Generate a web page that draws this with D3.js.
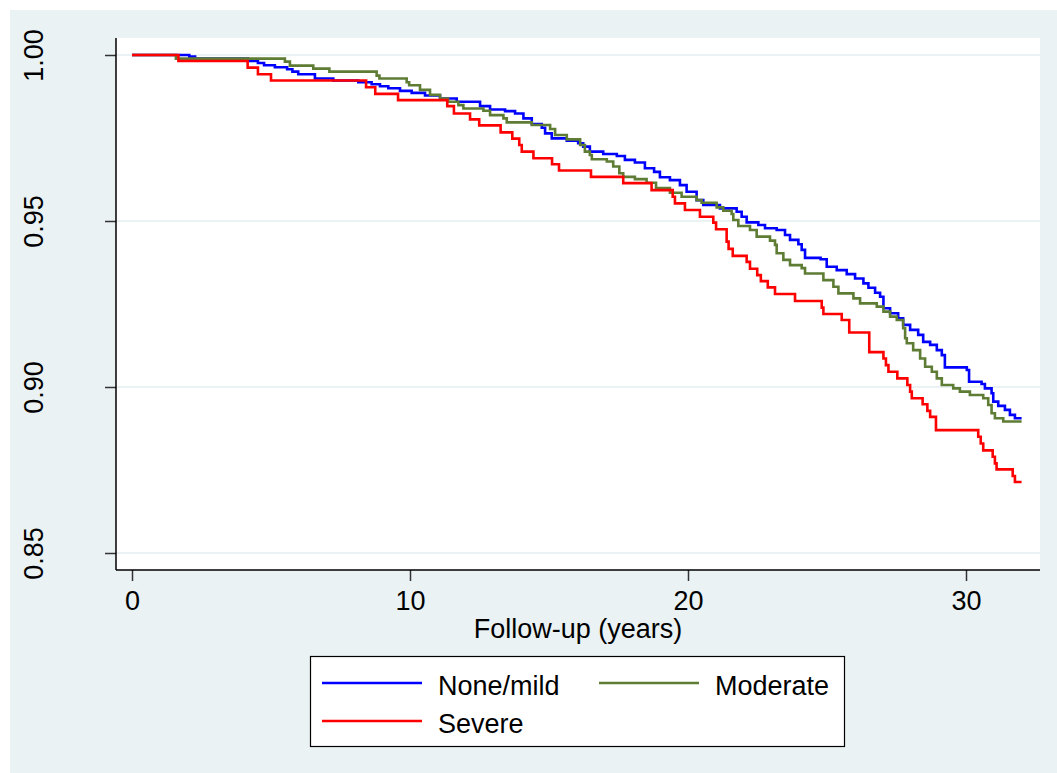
<!DOCTYPE html>
<html>
<head>
<meta charset="utf-8">
<script src="https://cdn.jsdelivr.net/npm/d3@7"></script>
<style>
  body { margin: 0; background: #fff; }
  text { font-family: "Liberation Sans", Arial, sans-serif; fill: #000; }
</style>
</head>
<body>
<div id="chart"></div>
<script>
// Kaplan-Meier survival estimates: [years, survival]
const noneMild = [
  [0, 1], [2.06, 0.9995], [2.27, 0.9989], [4.17, 0.9982], [4.53, 0.9976], [4.75, 0.9969],
  [5.14, 0.9963], [5.58, 0.9957], [5.77, 0.9950], [5.98, 0.9942], [6.58, 0.9929], [7.24, 0.9923],
  [8.14, 0.9918], [8.62, 0.9912], [8.92, 0.9906], [9.22, 0.9900], [9.64, 0.9892], [10.06, 0.9886],
  [10.54, 0.9878], [11.08, 0.9869], [11.68, 0.9859], [12.52, 0.9846], [12.88, 0.9836], [13.42, 0.9831],
  [13.78, 0.9824], [14.08, 0.9809], [14.38, 0.9792], [14.74, 0.9781], [14.86, 0.9764], [15.10, 0.9749],
  [15.64, 0.9742], [16.05, 0.9734], [16.23, 0.9724], [16.47, 0.9709], [16.95, 0.9702], [17.44, 0.9696],
  [17.73, 0.9684], [18.09, 0.9676], [18.45, 0.9659], [18.78, 0.9648], [18.99, 0.9632], [19.35, 0.9623],
  [19.71, 0.9608], [19.95, 0.9588], [20.31, 0.9563], [20.55, 0.9548], [21.15, 0.9538], [21.75, 0.9528],
  [21.93, 0.9513], [22.11, 0.9496], [22.53, 0.9488], [22.77, 0.9478], [23.19, 0.9473], [23.49, 0.9458],
  [23.67, 0.9443], [23.97, 0.9430], [24.09, 0.9413], [24.21, 0.9389], [24.77, 0.9385], [24.99, 0.9362],
  [25.35, 0.9352], [25.71, 0.9340], [26.01, 0.9327], [26.31, 0.9312], [26.49, 0.9299], [26.73, 0.9284],
  [26.91, 0.9272], [27.03, 0.9237], [27.27, 0.9222], [27.56, 0.9207], [27.74, 0.9187], [27.99, 0.9172],
  [28.28, 0.9157], [28.46, 0.9136], [28.71, 0.9127], [28.95, 0.9111], [29.13, 0.9096], [29.24, 0.9059],
  [30.03, 0.9051], [30.11, 0.9016], [30.56, 0.9009], [30.68, 0.8996], [30.92, 0.8981], [30.98, 0.8956],
  [31.16, 0.8943], [31.40, 0.8931], [31.58, 0.8916], [31.76, 0.8906], [32.0, 0.8906]
];

const moderate = [
  [0, 1], [1.58, 0.9989], [5.50, 0.9980], [5.68, 0.9968], [6.52, 0.9959], [7.10, 0.9950],
  [8.80, 0.9938], [8.90, 0.9929], [9.88, 0.9918], [9.97, 0.9909], [10.36, 0.9895], [10.72, 0.9880],
  [11.08, 0.9869], [11.37, 0.9859], [11.74, 0.9849], [11.92, 0.9839], [12.64, 0.9832], [12.88, 0.9819],
  [13.36, 0.9809], [13.48, 0.9797], [14.38, 0.9789], [15.04, 0.9777], [15.22, 0.9759], [15.64, 0.9746],
  [16.12, 0.9729], [16.29, 0.9709], [16.47, 0.9699], [16.54, 0.9686], [17.08, 0.9679], [17.31, 0.9664],
  [17.53, 0.9644], [17.67, 0.9633], [18.09, 0.9626], [18.51, 0.9615], [18.85, 0.9599], [19.35, 0.9585],
  [19.77, 0.9573], [20.31, 0.9563], [20.49, 0.9555], [21.03, 0.9541], [21.27, 0.9531], [21.57, 0.9521],
  [21.63, 0.9503], [21.81, 0.9485], [22.23, 0.9473], [22.47, 0.9453], [22.95, 0.9441], [23.13, 0.9428],
  [23.19, 0.9403], [23.43, 0.9383], [23.67, 0.9367], [24.09, 0.9358], [24.21, 0.9342], [24.87, 0.9322],
  [25.23, 0.9302], [25.41, 0.9282], [25.95, 0.9267], [26.19, 0.9252], [26.79, 0.9242], [27.03, 0.9227],
  [27.27, 0.9212], [27.51, 0.9202], [27.74, 0.9177], [27.81, 0.9147], [27.87, 0.9132], [28.10, 0.9111],
  [28.35, 0.9086], [28.53, 0.9061], [28.77, 0.9046], [28.95, 0.9026], [29.13, 0.9006], [29.54, 0.8996],
  [29.78, 0.8986], [30.14, 0.8976], [30.62, 0.8966], [30.80, 0.8946], [30.92, 0.8921], [31.04, 0.8906],
  [31.34, 0.8896], [32.0, 0.8896]
];

const severe = [
  [0, 1], [1.67, 0.9982], [4.16, 0.9962], [4.53, 0.9942], [5.00, 0.9923], [8.42, 0.9903],
  [8.75, 0.9883], [9.57, 0.9864], [11.34, 0.9846], [11.58, 0.9824], [12.16, 0.9806], [12.49, 0.9788],
  [13.26, 0.9767], [13.68, 0.9748], [13.93, 0.9729], [14.02, 0.9709], [14.44, 0.9689], [15.11, 0.9671],
  [15.36, 0.9652], [16.51, 0.9633], [17.67, 0.9614], [18.69, 0.9593], [19.45, 0.9573], [19.53, 0.9553],
  [19.89, 0.9533], [20.43, 0.9513], [20.91, 0.9495], [21.01, 0.9475], [21.39, 0.9438], [21.46, 0.9416],
  [21.61, 0.9395], [22.11, 0.9377], [22.23, 0.9356], [22.49, 0.9337], [22.62, 0.9319], [22.87, 0.9300],
  [23.13, 0.9280], [23.85, 0.9259], [24.81, 0.9239], [24.87, 0.9220], [25.53, 0.9202], [25.80, 0.9164],
  [26.52, 0.9105], [27.03, 0.9086], [27.12, 0.9066], [27.21, 0.9046], [27.53, 0.9026], [27.89, 0.9006],
  [27.99, 0.8986], [28.05, 0.8966], [28.44, 0.8948], [28.61, 0.8928], [28.71, 0.8910], [28.92, 0.8870],
  [30.44, 0.8850], [30.53, 0.8830], [30.62, 0.8809], [30.96, 0.8790], [31.04, 0.8770], [31.10, 0.8752],
  [31.68, 0.8732], [31.76, 0.8714], [32.0, 0.8714]
];

const xTicks = [0, 10, 20, 30];
const yTicks = [0.85, 0.90, 0.95, 1.00];
const seriesNames = ["None/mild", "Moderate", "Severe"];
const seriesColors = ["#0000ff", "#5e7c34", "#ff0000"];
const seriesData = [noneMild, moderate, severe];

const W = 1057, H = 773;
const plot = { left: 116, top: 38, right: 1040, bottom: 570 };
const fontSize = "27px";

const svg = d3.select("#chart")
  .append("svg")
  .attr("width", W)
  .attr("height", H);

// graph region
svg.append("rect")
  .attr("x", 10).attr("y", 10)
  .attr("width", W - 10).attr("height", H - 10)
  .attr("fill", "#eaf2f3");

svg.append("rect")
  .attr("x", plot.left).attr("y", plot.top)
  .attr("width", plot.right - plot.left).attr("height", plot.bottom - plot.top)
  .attr("fill", "#fff");

const x = d3.scaleLinear().domain([0, 30]).range([132, 966]);
const y = d3.scaleLinear().domain([0.85, 1.0]).range([553, 55]);

// gridlines
svg.append("g")
  .selectAll("line")
  .data(yTicks)
  .enter().append("line")
  .attr("x1", plot.left).attr("x2", plot.right)
  .attr("y1", d => y(d)).attr("y2", d => y(d))
  .attr("stroke", "#eaf2f3")
  .attr("stroke-width", 2);

// y axis
const yAxis = svg.append("g")
  .attr("transform", `translate(${plot.left},0)`)
  .call(d3.axisLeft(y).tickValues(yTicks).tickFormat(d3.format(".2f")).tickSize(11).tickPadding(0));
yAxis.select(".domain").remove();
yAxis.selectAll(".tick line").attr("stroke", "#333").attr("stroke-width", 1.5);
yAxis.selectAll(".tick text")
  .attr("transform", "translate(-73,0) rotate(-90)")
  .attr("x", 0).attr("dy", 0).attr("y", 0)
  .style("text-anchor", "middle")
  .style("font-size", fontSize);

// x axis
const xAxis = svg.append("g")
  .attr("transform", `translate(0,${plot.bottom})`)
  .call(d3.axisBottom(x).tickValues(xTicks).tickSize(11).tickPadding(0));
xAxis.select(".domain").remove();
xAxis.selectAll(".tick line").attr("stroke", "#333").attr("stroke-width", 1.5);
xAxis.selectAll(".tick text")
  .attr("y", 40).attr("dy", 0)
  .style("font-size", fontSize);

// axis lines
svg.append("line")
  .attr("x1", plot.left).attr("x2", plot.left)
  .attr("y1", plot.top).attr("y2", plot.bottom)
  .attr("stroke", "#000").attr("stroke-width", 1.5);
svg.append("line")
  .attr("x1", plot.left).attr("x2", plot.right)
  .attr("y1", plot.bottom).attr("y2", plot.bottom)
  .attr("stroke", "#000").attr("stroke-width", 1.5);

// x title
svg.append("text")
  .attr("x", 578).attr("y", 638)
  .style("text-anchor", "middle")
  .style("font-size", fontSize)
  .text("Follow-up (years)");

// survival curves
const line = d3.line()
  .x(d => x(d[0]))
  .y(d => y(d[1]))
  .curve(d3.curveStepAfter);

svg.append("g")
  .selectAll("path")
  .data(seriesData)
  .enter().append("path")
  .attr("d", line)
  .attr("fill", "none")
  .attr("stroke", (d, i) => seriesColors[i])
  .attr("stroke-width", 2.6);

// legend
const legend = svg.append("g");
legend.append("rect")
  .attr("x", 310.5).attr("y", 656.5)
  .attr("width", 534).attr("height", 90)
  .attr("fill", "#fff")
  .attr("stroke", "#000")
  .attr("stroke-width", 1.2);

const legendPos = [
  { lx: 322, tx: 438, ly: 683 },
  { lx: 599, tx: 715, ly: 683 },
  { lx: 322, tx: 438, ly: 721 }
];
seriesNames.forEach((name, i) => {
  const p = legendPos[i];
  legend.append("line")
    .attr("x1", p.lx).attr("x2", p.lx + 100)
    .attr("y1", p.ly).attr("y2", p.ly)
    .attr("stroke", seriesColors[i])
    .attr("stroke-width", 2.6);
  legend.append("text")
    .attr("x", p.tx).attr("y", p.ly + 12)
    .style("font-size", fontSize)
    .text(name);
});
</script>
</body>
</html>
